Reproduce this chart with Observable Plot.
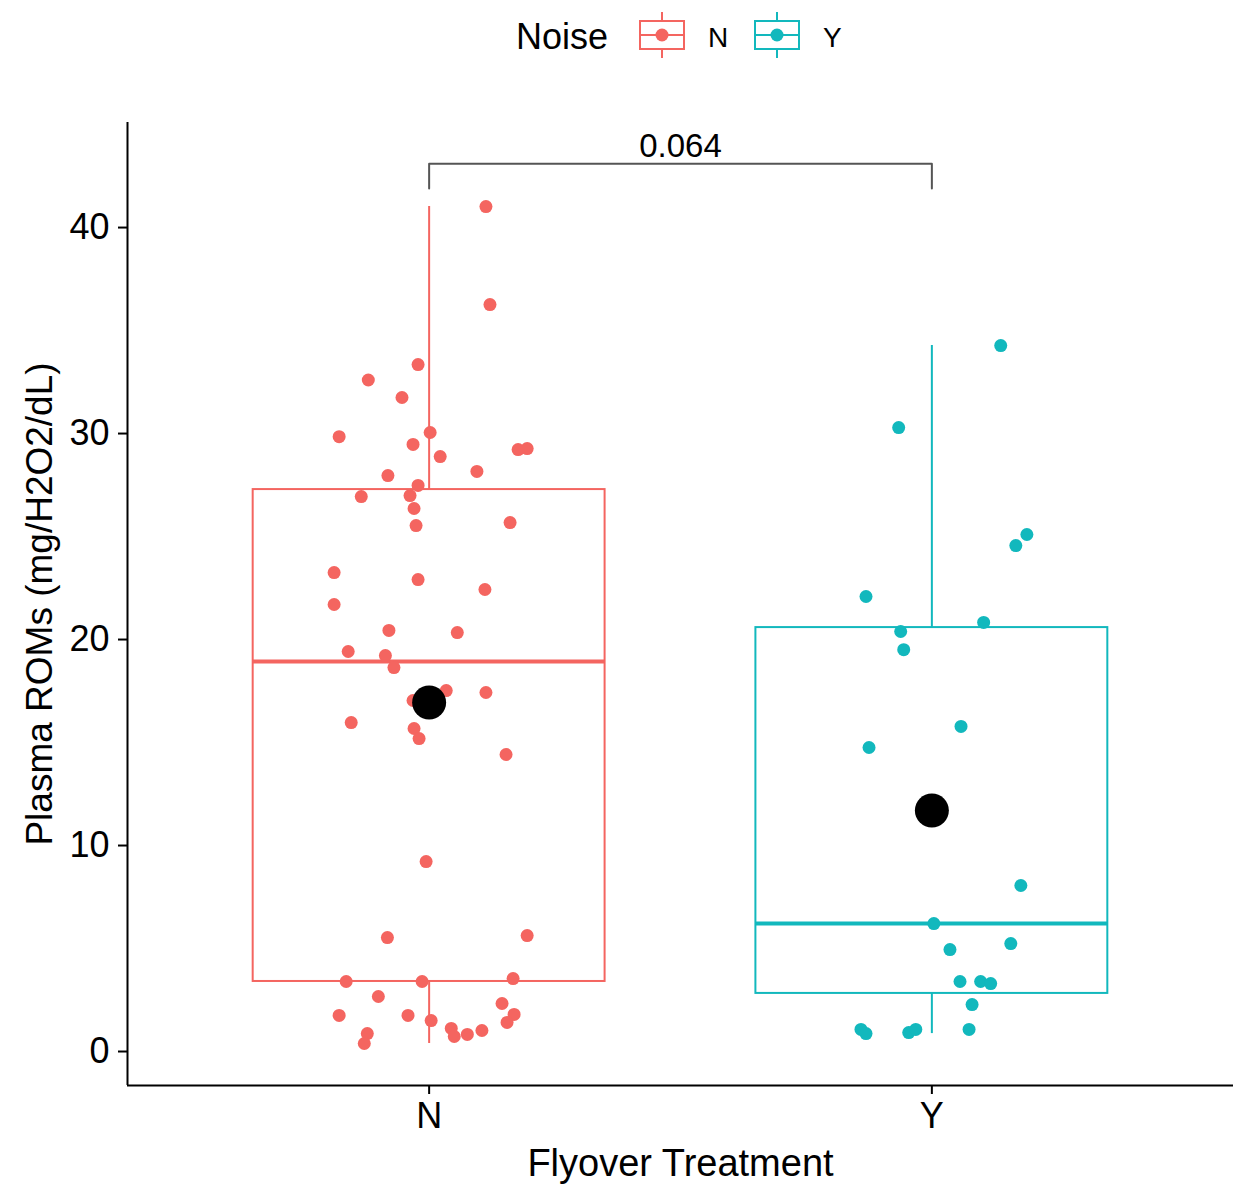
<!DOCTYPE html>
<html>
<head>
<meta charset="utf-8">
<script src="https://cdn.jsdelivr.net/npm/d3@7"></script>
<script src="https://cdn.jsdelivr.net/npm/@observablehq/plot@0.6"></script>
<style>
  html, body { margin: 0; padding: 0; background: #fff; }
  body { width: 1241px; height: 1195px; overflow: hidden; font-family: "Liberation Sans", Arial, sans-serif; }
  svg { display: block; }
</style>
</head>
<body>
<div id="legend"></div>
<div id="chart"></div>
<script>
// ---- data ----
const groups = ["N", "Y"];
const colors = ["#F46560", "#12B8BD"];
const legendTitle = "Noise";
const xLabel = "Flyover Treatment";
const yLabel = "Plasma ROMs (mg/H2O2/dL)";
const yTicks = [0, 10, 20, 30, 40];

// box statistics per group
const q1 = [3.40, 2.82];
const medians = [18.93, 6.21];
const q3 = [27.28, 20.58];
const whiskLo = [0.39, 0.87];
const whiskHi = [41.02, 34.27];
const means = [16.94, 11.70];

// jittered observations (horizontal jitter in group units)
const nJitter = [0.113, 0.121, -0.022, -0.121, -0.054, -0.179, 0.002, -0.032, 0.022, 0.177,
  0.195, -0.082, 0.095, -0.022, -0.135, -0.038, -0.030, -0.026, 0.161, -0.189,
  -0.022, 0.111, -0.189, -0.080, 0.056, -0.161, -0.087, -0.070, 0.034, -0.032,
  0.113, -0.155, -0.030, -0.020, 0.153, -0.006, -0.083, 0.195, -0.165, -0.014,
  0.167, -0.101, 0.145, -0.179, -0.042, 0.169, 0.155, 0.004, 0.044, 0.050,
  0.076, 0.105, -0.123, -0.129];
const nValues = [41.02, 36.26, 33.35, 32.60, 31.75, 29.85, 30.05, 29.47, 28.88, 29.22,
  29.27, 27.96, 28.16, 27.48, 26.94, 26.99, 26.36, 25.53, 25.68, 23.25,
  22.91, 22.43, 21.70, 20.44, 20.34, 19.42, 19.22, 18.64, 17.52, 17.04,
  17.43, 15.97, 15.68, 15.19, 14.42, 9.22, 5.53, 5.63, 3.40, 3.40,
  3.54, 2.67, 2.33, 1.75, 1.75, 1.80, 1.41, 1.50, 1.12, 0.73,
  0.83, 1.02, 0.87, 0.39];
const yJitter = [0.137, -0.066, 0.189, 0.167, -0.131, -0.062, 0.103, -0.056, 0.058, -0.125,
  0.177, 0.004, 0.036, 0.157, 0.056, 0.097, 0.117, 0.080, 0.074, -0.141,
  -0.131, -0.046, -0.032];
const yValues = [34.27, 30.29, 25.10, 24.56, 22.09, 20.39, 20.83, 19.51, 15.78, 14.76,
  8.06, 6.21, 4.95, 5.24, 3.40, 3.40, 3.30, 2.28, 1.07, 1.07,
  0.87, 0.92, 1.07];

// comparison bracket
const pLabel = "0.064";
const bracketTop = 43.1;
const bracketFoot = 41.9;

// ---- derived tables ----
const boxes = groups.map((g, i) => ({
  group: g, pos: i + 1, q1: q1[i], med: medians[i], q3: q3[i],
  lo: whiskLo[i], hi: whiskHi[i], mean: means[i]
}));
const points = [
  ...nValues.map((v, i) => ({group: "N", x: 1 + nJitter[i], y: v})),
  ...yValues.map((v, i) => ({group: "Y", x: 2 + yJitter[i], y: v}))
];
const bracket = [
  {x: 1, y: bracketFoot}, {x: 1, y: bracketTop},
  {x: 2, y: bracketTop}, {x: 2, y: bracketFoot}
];
const halfW = 0.35;

// ---- legend (HTML/SVG above the plot) ----
(function () {
  const W = 1241, H = 80;
  const svg = d3.select("#legend").append("svg").attr("width", W).attr("height", H)
    .attr("font-family", "Liberation Sans, Arial, sans-serif");
  svg.append("text").attr("x", 516).attr("y", 49).attr("font-size", 36).attr("fill", "#000").text(legendTitle);
  const keyX = [640, 755];
  const labX = [708, 823];
  groups.forEach((g, i) => {
    const k = svg.append("g").attr("stroke", colors[i]).attr("stroke-width", 2).attr("fill", "none");
    const cx = keyX[i] + 22;
    k.append("line").attr("x1", cx).attr("x2", cx).attr("y1", 12).attr("y2", 21);
    k.append("line").attr("x1", cx).attr("x2", cx).attr("y1", 49).attr("y2", 58);
    k.append("rect").attr("x", keyX[i]).attr("y", 21).attr("width", 44).attr("height", 28).attr("fill", "#fff");
    k.append("line").attr("x1", keyX[i]).attr("x2", keyX[i] + 44).attr("y1", 35).attr("y2", 35);
    svg.append("circle").attr("cx", cx).attr("cy", 35).attr("r", 6.5).attr("fill", colors[i]);
    svg.append("text").attr("x", labX[i]).attr("y", 47).attr("font-size", 28).attr("fill", "#000").text(g);
  });
})();

// ---- plot ----
const chart = Plot.plot({
  width: 1241,
  height: 1115,
  marginTop: 42,
  marginBottom: 110,
  marginLeft: 127,
  marginRight: 8,
  style: {fontFamily: "Liberation Sans, Arial, sans-serif", color: "#000", background: "#fff"},
  x: {type: "linear", domain: [0.4, 2.6], axis: null},
  y: {domain: [-1.65, 45.1], axis: null},
  color: {domain: groups, range: colors},
  marks: [
    // axes
    Plot.axisY({ticks: yTicks, tickSize: 9, tickPadding: 9, fontSize: 36, strokeWidth: 2, label: null}),
    Plot.axisX({ticks: [1, 2], tickFormat: d => groups[d - 1], tickSize: 9, tickPadding: 8, fontSize: 36, strokeWidth: 2, label: null}),
    Plot.ruleX([0.4], {stroke: "#000", strokeWidth: 2}),
    Plot.ruleY([-1.65], {stroke: "#000", strokeWidth: 2}),
    Plot.text([yLabel], {frameAnchor: "left", textAnchor: "middle", rotate: -90, dx: -87, fontSize: 37, fill: "#000"}),
    Plot.text([xLabel], {frameAnchor: "bottom", textAnchor: "middle", lineAnchor: "bottom", dy: 90, fontSize: 38, fill: "#000"}),
    // whiskers
    Plot.ruleX(boxes, {x: "pos", y1: "q3", y2: "hi", stroke: "group", strokeWidth: 2}),
    Plot.ruleX(boxes, {x: "pos", y1: "lo", y2: "q1", stroke: "group", strokeWidth: 2}),
    // boxes
    Plot.rect(boxes, {x1: d => d.pos - halfW, x2: d => d.pos + halfW, y1: "q1", y2: "q3", fill: "#fff", stroke: "group", strokeWidth: 2}),
    Plot.ruleY(boxes, {x1: d => d.pos - halfW, x2: d => d.pos + halfW, y: "med", stroke: "group", strokeWidth: 4}),
    // jittered points
    Plot.dot(points, {x: "x", y: "y", fill: "group", r: 6.5}),
    // means
    Plot.dot(boxes, {x: "pos", y: "mean", fill: "#000", r: 17}),
    // bracket
    Plot.line(bracket, {x: "x", y: "y", stroke: "#555", strokeWidth: 2}),
    Plot.text([pLabel], {x: () => 1.5, y: () => bracketTop, lineAnchor: "bottom", dy: -7, fontSize: 33, fill: "#000"})
  ]
});
document.getElementById("chart").appendChild(chart);
</script>
</body>
</html>
